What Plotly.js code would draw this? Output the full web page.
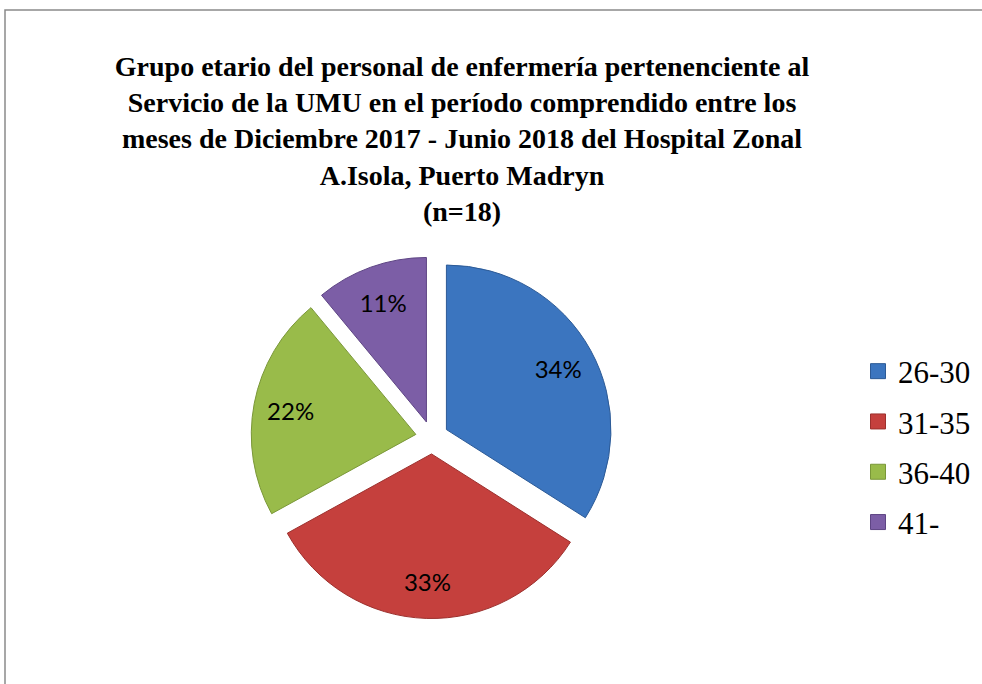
<!DOCTYPE html>
<html>
<head>
<meta charset="utf-8">
<script src="https://cdn.plot.ly/plotly-3.0.1.min.js"></script>
<style>html,body{margin:0;padding:0;background:#fff;}</style>
</head>
<body>
<div id="chart" style="width:982px;height:684px;"></div>
<script>
const categories = ["26-30", "31-35", "36-40", "41-"];
const percentValues = [34, 33, 22, 11];
const sliceColors = ["#3b75bf", "#c5403d", "#99bb4a", "#7c5ea6"];
const edgeColors = ["#2c5a96", "#9c302d", "#7a9738", "#5e4584"];
const titleLines = [
  "Grupo etario del personal de enfermería pertenenciente al",
  "Servicio de la UMU en el período comprendido entre los",
  "meses de Diciembre 2017 - Junio 2018 del Hospital Zonal",
  "A.Isola, Puerto Madryn",
  "(n=18)"
];

const pieDomain = { x: [251/982, 613/982], y: [65.5/684, 427.5/684] };

// Coloured slices
const pieTrace = {
  type: "pie",
  labels: categories,
  values: percentValues,
  sort: false,
  direction: "clockwise",
  rotation: 0,
  pull: 0.1,
  marker: { colors: sliceColors, line: { color: edgeColors, width: 1 } },
  textinfo: "none",
  domain: pieDomain,
  showlegend: false,
  hoverinfo: "label+percent"
};

// Transparent ring on top, only to place the percentage labels further out
const labelTrace = {
  type: "pie",
  labels: categories,
  values: percentValues,
  sort: false,
  direction: "clockwise",
  rotation: 0,
  pull: 0.1,
  hole: 0.55,
  marker: { colors: categories.map(() => "rgba(0,0,0,0)"), line: { width: 0 } },
  textinfo: "percent",
  textposition: "inside",
  insidetextorientation: "horizontal",
  textfont: { family: "Lato, 'Noto Sans', sans-serif", size: 24, color: "#000" },
  domain: pieDomain,
  showlegend: false,
  hoverinfo: "skip"
};

const legendTraces = categories.map((c, i) => ({
  type: "scatter",
  mode: "markers",
  x: [null], y: [null],
  name: c,
  legendgroup: "g" + i,
  marker: { symbol: "square", size: 15, color: sliceColors[i], line: { color: edgeColors[i], width: 1 } },
  showlegend: true,
  hoverinfo: "skip"
}));

const layout = {
  width: 982, height: 684,
  margin: { l: 0, r: 0, t: 0, b: 0 },
  paper_bgcolor: "#fff",
  plot_bgcolor: "rgba(0,0,0,0)",
  title: {
    text: titleLines.join("<br>"),
    font: { family: "'Liberation Serif', 'Times New Roman', serif", size: 28, color: "#000", weight: "bold" },
    x: 462/982, xanchor: "center",
    yref: "container", y: 1 - 75.5/684, yanchor: "middle"
  },
  xaxis: { visible: false, range: [0, 1], fixedrange: true },
  yaxis: { visible: false, range: [0, 1], fixedrange: true },
  showlegend: true,
  legend: {
    x: 858/982, xanchor: "left",
    y: (684 - 447)/684, yanchor: "middle",
    font: { family: "'Liberation Serif', 'Times New Roman', serif", size: 31, color: "#000" },
    traceorder: "grouped",
    tracegroupgap: 7,
    itemwidth: 30,
    bgcolor: "rgba(0,0,0,0)"
  },
  shapes: [{
    type: "rect", xref: "paper", yref: "paper",
    x0: 5/982, x1: 1.02, y0: -0.02, y1: 1 - 10/684,
    line: { color: "#8a8a8a", width: 1.5 },
    fillcolor: "rgba(0,0,0,0)", layer: "below"
  }]
};

Plotly.newPlot("chart", [pieTrace, labelTrace, ...legendTraces], layout, { displayModeBar: false, staticPlot: true });
</script>
</body>
</html>
